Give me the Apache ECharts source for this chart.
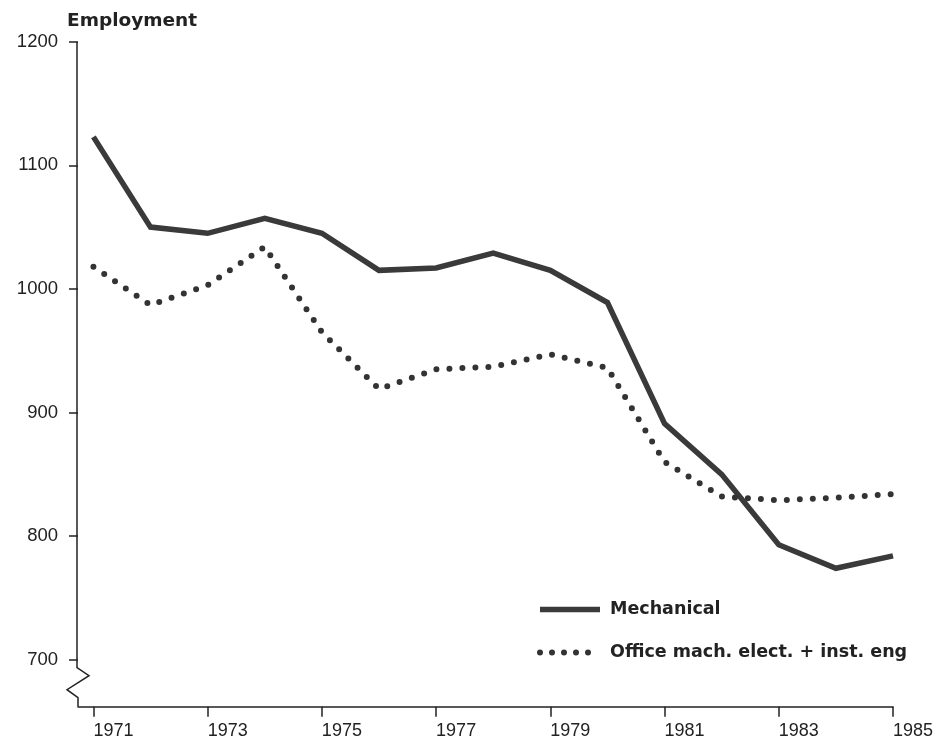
<!DOCTYPE html>
<html>
<head>
<meta charset="utf-8">
<script src="https://cdn.jsdelivr.net/npm/echarts@6/dist/echarts.min.js"></script>
<style>
html,body{margin:0;padding:0;background:#fff;}
#c{width:938px;height:743px;}
</style>
</head>
<body>
<div id="c"></div>
<script>
var years = [1971,1972,1973,1974,1975,1976,1977,1978,1979,1980,1981,1982,1983,1984,1985];
var mechanical = [1123,1050,1045,1057,1045,1015,1017,1029,1015,989,891,850,793,774,784];
var office = [1018,987,1003,1034,965,919,935,937,947,936,860,832,829,831,834];
var yTicks = [700,800,900,1000,1100,1200];
var xTicks = [1971,1973,1975,1977,1979,1981,1983,1985];
var seriesNames = ['Mechanical','Office mach. elect. + inst. eng'];

function pairs(xs, ys){ return xs.map(function(x,i){ return [x, ys[i]]; }); }

var chart = echarts.init(document.getElementById('c'), null, {renderer:'canvas'});
var axisColor = '#222';
var solidStyle = {color:'#3a3a3a', width:5.5, join:'miter'};
var dotStyle = {color:'#333', width:6, type:[0,13], cap:'round', join:'round'};
var option = {
  backgroundColor:'#fff',
  animation:false,
  title:{
    text:'Employment', left:62, top:7,
    textStyle:{fontFamily:'DejaVu Sans', fontWeight:'bold', fontSize:18.5, color:'#222'}
  },
  grid:{left:78, right:45, top:41.7, bottom:36.3, containLabel:false},
  legend:{
    orient:'vertical', left:537, top:599, padding:0,
    itemWidth:60, itemHeight:14, itemGap:22,
    data:[
      {name:seriesNames[0], itemStyle:{opacity:0}, lineStyle:{width:5.5, type:'solid', color:'#3a3a3a'}},
      {name:seriesNames[1], itemStyle:{opacity:0}, lineStyle:{width:6, type:[0,12], cap:'round', color:'#333'}}
    ],
    textStyle:{fontFamily:'DejaVu Sans', fontWeight:'bold', fontSize:17.5, color:'#222', lineHeight:21, padding:[0,0,0,5]}
  },
  xAxis:{
    type:'value', min:1970.73, max:1985,
    axisLine:{show:true, lineStyle:{color:axisColor, width:1.5}},
    axisTick:{show:true, customValues:xTicks, length:10, lineStyle:{color:axisColor, width:1.5}},
    axisLabel:{customValues:xTicks, margin:15, align:'left', fontFamily:'Liberation Sans', fontSize:18, color:'#222',
      formatter:function(v){return String(v);}},
    splitLine:{show:false}
  },
  yAxis:{
    type:'value', min:662, max:1200,
    axisLine:{show:false},
    axisTick:{show:true, customValues:yTicks, length:9, lineStyle:{color:axisColor, width:1.5}},
    axisLabel:{customValues:yTicks, margin:20, fontFamily:'Liberation Sans', fontSize:18.5, color:'#222',
      formatter:function(v){return String(v);}},
    splitLine:{show:false}
  },
  series:[
    {name:seriesNames[0], type:'line', data:pairs(years, mechanical), symbol:'none', smooth:false,
      color:'#3a3a3a', lineStyle:solidStyle},
    {name:seriesNames[1], type:'line', data:pairs(years, office), symbol:'none', smooth:false,
      color:'#333', lineStyle:dotStyle}
  ]
};
chart.setOption(option);

// y-axis line with break symbol, positioned from the axis scale
var x0 = chart.convertToPixel({xAxisIndex:0}, 1970.73);
var yTop = chart.convertToPixel({yAxisIndex:0}, 1200);
var yBot = chart.convertToPixel({yAxisIndex:0}, 662);
chart.setOption({
  graphic:[{
    type:'polyline', silent:true,
    shape:{points:[
      [x0-1, yTop],
      [x0-1, yBot-39],
      [x0+11, yBot-31],
      [x0-11, yBot-17],
      [x0, yBot-9],
      [x0, yBot]
    ]},
    style:{stroke:axisColor, lineWidth:1.5, fill:null}
  }]
});
</script>
</body>
</html>
